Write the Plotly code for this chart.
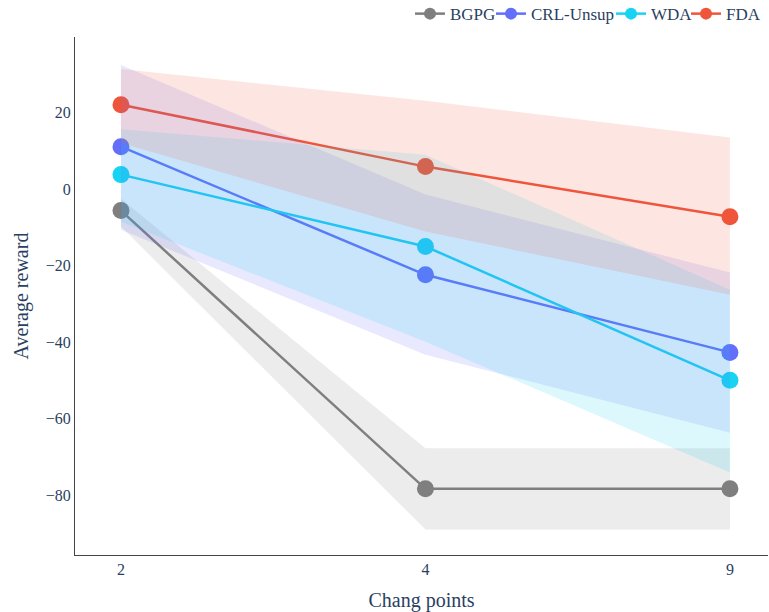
import plotly.graph_objects as go

categories = ["2", "4", "9"]
methods = ["BGPG", "CRL-Unsup", "WDA", "FDA"]
colors = {"BGPG": "#7f7f7f", "CRL-Unsup": "#636EFA", "WDA": "#19D3F3", "FDA": "#EF553B"}
fills = {"BGPG": "rgba(127,127,127,0.15)", "CRL-Unsup": "rgba(99,110,250,0.15)",
         "WDA": "rgba(25,211,243,0.15)", "FDA": "rgba(239,85,59,0.15)"}

bgpg_mean = [-5.6, -78.4, -78.4]
bgpg_upper = [-2.5, -67.8, -67.8]
bgpg_lower = [-9.8, -89.0, -89.0]

crl_mean = [11.1, -22.4, -42.7]
crl_upper = [32.5, -1.4, -21.8]
crl_lower = [-10.6, -43.3, -63.7]

wda_mean = [3.8, -15.0, -50.0]
wda_upper = [15.7, 9.0, -26.3]
wda_lower = [-8.5, -39.9, -74.1]

fda_mean = [22.1, 5.9, -7.2]
fda_upper = [31.4, 23.1, 13.5]
fda_lower = [12.1, -11.1, -27.6]

data = {
    "BGPG": (bgpg_mean, bgpg_upper, bgpg_lower),
    "CRL-Unsup": (crl_mean, crl_upper, crl_lower),
    "WDA": (wda_mean, wda_upper, wda_lower),
    "FDA": (fda_mean, fda_upper, fda_lower),
}

# legend entry placement (paper x of each single-item legend)
legend_ids = ["legend", "legend2", "legend3", "legend4"]
legend_x = [0.4834, 0.6003, 0.7735, 0.8817]

fig = go.Figure()
# legend entries (no data drawn)
for m, lid in zip(methods, legend_ids):
    fig.add_trace(go.Scatter(x=[None], y=[None], mode="lines+markers", name=m, legend=lid,
                             line=dict(color=colors[m], width=2.5),
                             marker=dict(color=colors[m], size=12)))
for m in methods:
    mean, up, lo = data[m]
    fig.add_trace(go.Scatter(x=categories, y=mean, mode="lines+markers", name=m,
                             showlegend=False,
                             line=dict(color=colors[m], width=2.5),
                             marker=dict(color=colors[m], size=17)))
for m in methods:
    mean, up, lo = data[m]
    fig.add_trace(go.Scatter(x=categories + categories[::-1], y=up + lo[::-1],
                             fill="toself", fillcolor=fills[m], line=dict(width=0),
                             mode="lines", showlegend=False, hoverinfo="skip"))

legend_common = dict(orientation="h", xanchor="left", y=1.079, yanchor="top",
                     font=dict(size=17), bgcolor="rgba(0,0,0,0)")
fig.update_layout(
    template="plotly_white",
    width=769, height=612,
    margin=dict(l=75, r=1, t=37, b=57, autoexpand=False),
    font=dict(family="Liberation Serif, Times New Roman, serif", size=16, color="#2a3f5f"),
    xaxis=dict(type="category", range=[-0.151, 2.125], showgrid=False, showline=True,
               linecolor="#444", linewidth=1, title=dict(text="Chang points", font=dict(size=20)),
               zeroline=False),
    yaxis=dict(range=[-95.7, 39.8], showgrid=False, showline=True, linecolor="#444",
               linewidth=1, zeroline=False, dtick=20,
               title=dict(text="Average reward", font=dict(size=20), standoff=11)),
)
for lid, lx in zip(legend_ids, legend_x):
    fig.update_layout({lid: dict(x=lx, **legend_common)})
fig.write_html("out.html")
